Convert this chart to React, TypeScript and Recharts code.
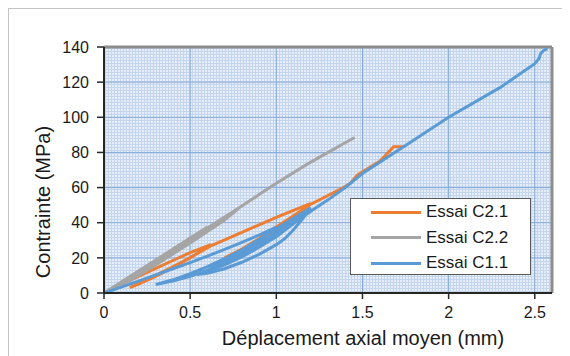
import React from "react";
import { LineChart, Line, XAxis, YAxis, CartesianGrid, ReferenceLine, Label } from "recharts";

const xTicks = [0, 0.5, 1, 1.5, 2, 2.5];
const yTicks = [0, 20, 40, 60, 80, 100, 120, 140];

const essaiC21 = [
  { x: 0, y: 0 }, { x: 0.1, y: 4.8 }, { x: 0.2, y: 9.5 }, { x: 0.3, y: 14 }, { x: 0.4, y: 18.5 },
  { x: 0.5, y: 23 }, { x: 0.62, y: 27.5 },
  { x: 0.5, y: 20 }, { x: 0.4, y: 14.5 }, { x: 0.3, y: 9.5 }, { x: 0.2, y: 5 }, { x: 0.15, y: 3 },
  { x: 0.25, y: 7.5 }, { x: 0.35, y: 12.5 }, { x: 0.45, y: 17.5 }, { x: 0.55, y: 23 }, { x: 0.62, y: 26.8 },
  { x: 0.7, y: 30.2 }, { x: 0.8, y: 34.5 }, { x: 0.9, y: 38.8 }, { x: 1.0, y: 43 }, { x: 1.1, y: 47 },
  { x: 1.2, y: 51 },
  { x: 1.1, y: 43 }, { x: 1.0, y: 36 }, { x: 0.9, y: 30 }, { x: 0.8, y: 24.5 }, { x: 0.7, y: 20 },
  { x: 0.8, y: 25 }, { x: 0.9, y: 31 }, { x: 1.0, y: 37.5 }, { x: 1.1, y: 44 }, { x: 1.2, y: 50.5 },
  { x: 1.3, y: 55.5 }, { x: 1.38, y: 59.5 }, { x: 1.43, y: 62.5 }, { x: 1.47, y: 67 }, { x: 1.55, y: 72 },
  { x: 1.6, y: 75 }, { x: 1.63, y: 78 }, { x: 1.66, y: 81 }, { x: 1.68, y: 83.3 }, { x: 1.735, y: 83.3 },
];

const essaiC22 = [
  { x: 0, y: 0 }, { x: 0.2, y: 12.5 }, { x: 0.4, y: 25 }, { x: 0.6, y: 37.5 },
  { x: 0.5, y: 29.5 }, { x: 0.3, y: 16.5 }, { x: 0.1, y: 4.5 }, { x: 0.03, y: 1 },
  { x: 0.2, y: 11.5 }, { x: 0.4, y: 24 }, { x: 0.6, y: 36.5 }, { x: 0.78, y: 48 },
  { x: 0.7, y: 41.5 }, { x: 0.5, y: 28.5 }, { x: 0.3, y: 16 }, { x: 0.1, y: 4 }, { x: 0.02, y: 0.5 },
  { x: 0.2, y: 12 }, { x: 0.4, y: 24.5 }, { x: 0.6, y: 37 }, { x: 0.8, y: 49.5 }, { x: 0.9, y: 56 },
  { x: 1.0, y: 62.5 }, { x: 1.1, y: 68.5 }, { x: 1.2, y: 74.5 }, { x: 1.3, y: 80 }, { x: 1.4, y: 85.5 },
  { x: 1.455, y: 88.5 },
];

const essaiC11 = [
  { x: 0, y: 0 }, { x: 0.1, y: 3.3 }, { x: 0.2, y: 6.8 }, { x: 0.3, y: 10.3 }, { x: 0.4, y: 13.8 },
  { x: 0.5, y: 17.3 }, { x: 0.6, y: 21 }, { x: 0.7, y: 24.8 }, { x: 0.8, y: 28.8 }, { x: 0.9, y: 33 },
  { x: 1.0, y: 37.5 },
  { x: 0.9, y: 29.5 }, { x: 0.8, y: 23 }, { x: 0.7, y: 17.5 }, { x: 0.6, y: 13 }, { x: 0.5, y: 9.5 },
  { x: 0.4, y: 6.8 }, { x: 0.3, y: 4.8 },
  { x: 0.4, y: 7.5 }, { x: 0.5, y: 11 }, { x: 0.6, y: 15 }, { x: 0.7, y: 19.5 }, { x: 0.8, y: 24.5 },
  { x: 0.9, y: 30.5 }, { x: 1.0, y: 36.5 }, { x: 1.1, y: 42.5 }, { x: 1.2, y: 48.5 },
  { x: 1.1, y: 39.5 }, { x: 1.0, y: 32 }, { x: 0.9, y: 26 }, { x: 0.8, y: 21 }, { x: 0.7, y: 17 },
  { x: 0.62, y: 14 },
  { x: 0.7, y: 17.8 }, { x: 0.8, y: 22.5 }, { x: 0.9, y: 28 }, { x: 1.0, y: 34.5 }, { x: 1.1, y: 41 },
  { x: 1.2, y: 48 },
  { x: 1.15, y: 42 }, { x: 1.1, y: 36 }, { x: 1.05, y: 31 }, { x: 1.0, y: 27.5 }, { x: 0.9, y: 22 },
  { x: 0.8, y: 17.5 }, { x: 0.7, y: 13.8 }, { x: 0.6, y: 11.2 }, { x: 0.54, y: 10.5 },
  { x: 0.6, y: 12.5 }, { x: 0.7, y: 16 }, { x: 0.8, y: 20.5 }, { x: 0.9, y: 26 }, { x: 1.0, y: 32.5 },
  { x: 1.1, y: 39.5 }, { x: 1.2, y: 46.5 }, { x: 1.3, y: 53 }, { x: 1.4, y: 60 }, { x: 1.5, y: 68 },
  { x: 1.75, y: 84 }, { x: 2.0, y: 100 }, { x: 2.3, y: 117 }, { x: 2.5, y: 130.5 }, { x: 2.525, y: 133.5 },
  { x: 2.535, y: 136.4 }, { x: 2.554, y: 138.3 }, { x: 2.574, y: 138.9 },
];

const series = [
  { name: "Essai C2.1", data: essaiC21, color: "#ED7D31" },
  { name: "Essai C2.2", data: essaiC22, color: "#A5A5A5" },
  { name: "Essai C1.1", data: essaiC11, color: "#5B9BD5" },
];

const FONT = "'Liberation Sans', Arial, sans-serif";

export default function App() {
  return (
    <div
      style={{
        position: "relative",
        width: 561,
        height: 347,
        borderLeft: "1px solid #c4c4c4",
        borderTop: "1px solid #c4c4c4",
        fontFamily: FONT,
      }}
    >
      <LineChart width={561} height={347} margin={{ top: 38, right: 18, left: 15, bottom: 0 }}>
        <defs>
          <pattern id="gridpat" width="6" height="6" patternUnits="userSpaceOnUse">
            <rect x="0" y="0" width="6" height="6" fill="#e6edf8" />
            <rect x="0" y="0" width="6" height="1" fill="#c4d5ee" />
            <rect x="0" y="3" width="6" height="1" fill="#c4d5ee" />
            <rect x="0" y="0" width="1" height="6" fill="#c4d5ee" />
            <rect x="3" y="0" width="1" height="6" fill="#c4d5ee" />
            <rect x="4" y="4" width="1" height="1" fill="#ffffff" />
          </pattern>
        </defs>
        <CartesianGrid fill="url(#gridpat)" fillOpacity={1} stroke="#86aad9" strokeWidth={1} />
        <XAxis
          dataKey="x"
          type="number"
          domain={[0, 2.6]}
          ticks={xTicks}
          allowDataOverflow
          height={63}
          tickSize={6}
          tickMargin={8}
          axisLine={{ stroke: "#262626", strokeWidth: 2 }}
          tickLine={{ stroke: "#262626", strokeWidth: 1.5 }}
          tick={{ fill: "#1a1a1a", fontSize: 16, fontFamily: FONT }}
        >
          <Label
            content={(props: any) => {
              const vb = props.viewBox || {};
              return (
                <text
                  x={vb.x + vb.width / 2 + 35}
                  y={vb.y + 52}
                  textAnchor="middle"
                  fontSize={20}
                  fontFamily={FONT}
                  fill="#1a1a1a"
                >
                  Déplacement axial moyen (mm)
                </text>
              );
            }}
          />
        </XAxis>
        <YAxis
          type="number"
          domain={[0, 140]}
          ticks={yTicks}
          width={80}
          tickSize={7}
          tickMargin={8}
          axisLine={{ stroke: "#262626", strokeWidth: 2 }}
          tickLine={{ stroke: "#262626", strokeWidth: 1.5 }}
          tick={{ fill: "#1a1a1a", fontSize: 16, fontFamily: FONT }}
        >
          <Label
            content={(props: any) => {
              const vb = props.viewBox || {};
              const cx = vb.x + 19;
              const cy = vb.y + vb.height / 2 + 32;
              return (
                <text
                  x={cx}
                  y={cy}
                  transform={`rotate(-90 ${cx} ${cy})`}
                  textAnchor="middle"
                  dominantBaseline="central"
                  fontSize={20}
                  fontFamily={FONT}
                  fill="#1a1a1a"
                >
                  Contrainte (MPa)
                </text>
              );
            }}
          />
        </YAxis>
        <ReferenceLine y={140} stroke="#8c8c8c" strokeWidth={3} />
        <ReferenceLine x={2.6} stroke="#8c8c8c" strokeWidth={3} />
        {series.map((s) => (
          <Line
            key={s.name}
            name={s.name}
            data={s.data}
            dataKey="y"
            type="linear"
            stroke={s.color}
            strokeWidth={3}
            dot={false}
            activeDot={false}
            isAnimationActive={false}
          />
        ))}
      </LineChart>
      <div
        style={{
          position: "absolute",
          left: 341,
          top: 189,
          width: 181,
          height: 77,
          boxSizing: "border-box",
          border: "1px solid #595959",
          background: "#ffffff",
        }}
      >
        {series.map((s, i) => (
          <div
            key={s.name}
            style={{
              position: "absolute",
              left: 20,
              top: 13 + 25.5 * i - 11,
              height: 22,
              display: "flex",
              alignItems: "center",
              whiteSpace: "nowrap",
            }}
          >
            <span style={{ display: "inline-block", width: 50, height: 3, background: s.color }} />
            <span style={{ marginLeft: 5, fontSize: 17, color: "#1a1a1a", fontFamily: FONT }}>{s.name}</span>
          </div>
        ))}
      </div>
    </div>
  );
}
